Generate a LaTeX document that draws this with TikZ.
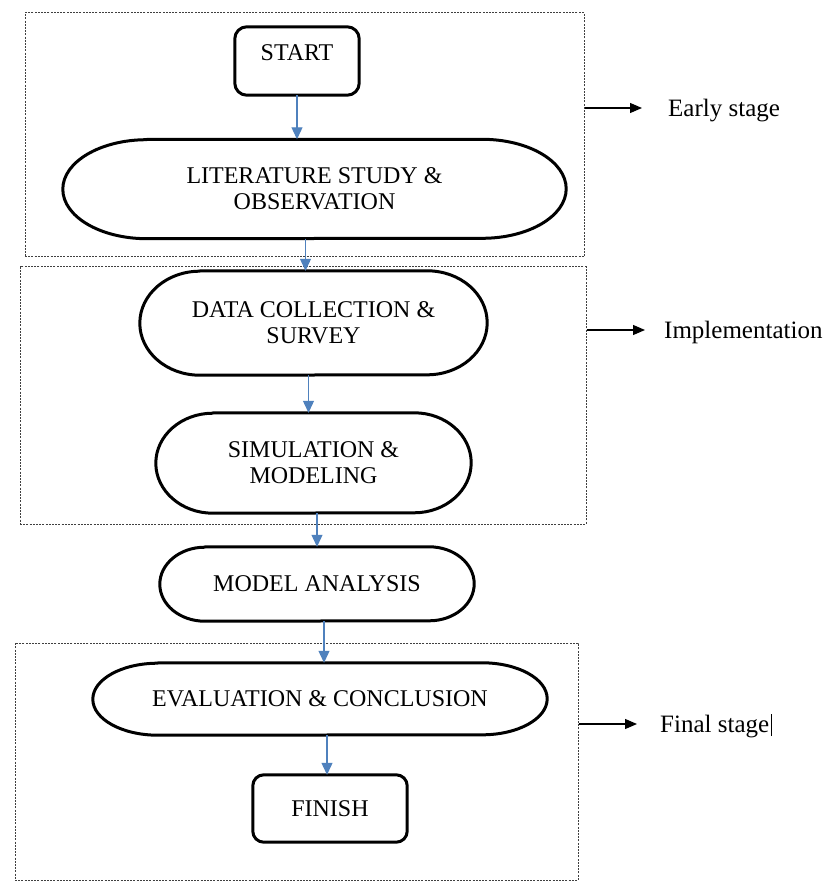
\documentclass[tikz,border=0pt]{standalone}
\usepackage{fontspec}
\setmainfont{Liberation Serif}
\usetikzlibrary{arrows.meta}
\definecolor{flowblue}{RGB}{79,129,189}
\tikzset{
  stagebox/.style={draw=black!75, line width=1pt, dash pattern=on 2pt off 1.2pt, inner sep=0pt},
  shapeline/.style={line width=3pt, line join=round},
  steptext/.style={font=\fontsize{24}{26}\selectfont, align=center, inner sep=0pt},
  flow/.style={draw=flowblue, line width=1.1pt, -{Triangle[length=12pt,width=11pt]}},
  side/.style={line width=1.2pt, -{Triangle[length=12pt,width=10pt]}},
  sidetext/.style={font=\fontsize{25}{28}\selectfont, anchor=base west, inner sep=0pt},
}
% outline of a capsule with elliptical ends: node name, end x radius, end y radius
\newcommand\capsuleframe[3]{%
  \draw[shapeline] ([xshift=#2]#1.north west) -- ([xshift=-#2]#1.north east)
    arc[start angle=90, end angle=-90, x radius=#2, y radius=#3]
    -- ([xshift=#2]#1.south west)
    arc[start angle=270, end angle=90, x radius=#2, y radius=#3] -- cycle;}
\begin{document}
\begin{tikzpicture}[x=1pt, y=-1pt]
  \fill[white] (0,0) rectangle (827,882);
  \useasboundingbox (0,0) rectangle (827,882);

  % stage frames
  \node[stagebox, minimum width=559pt, minimum height=244pt] (early) at (304.5,135) {};
  \node[stagebox, minimum width=566pt, minimum height=257pt] (impl) at (303,395.5) {};
  \node[stagebox, minimum width=563pt, minimum height=237pt] (final) at (296.5,761.5) {};

  % process steps
  \node[steptext, minimum width=124pt, minimum height=68pt, text height=16pt, text depth=17pt] (start) at (297,61) {START};
  \draw[shapeline, rounded corners=12pt] (start.north west) rectangle (start.south east);

  \node[steptext, minimum width=503pt, minimum height=99pt] (lit) at (314.5,189) {LITERATURE STUDY \&\\OBSERVATION};
  \capsuleframe{lit}{84pt}{49.5pt}

  \node[steptext, minimum width=347pt, minimum height=104pt] (data) at (313.5,323) {DATA COLLECTION \&\\SURVEY};
  \capsuleframe{data}{60pt}{52pt}

  \node[steptext, minimum width=315pt, minimum height=100pt] (sim) at (313.5,463) {SIMULATION \&\\MODELING};
  \capsuleframe{sim}{57pt}{50pt}

  \node[steptext, minimum width=314pt, minimum height=74pt] (model) at (317,584) {MODEL ANALYSIS};
  \capsuleframe{model}{45pt}{37pt}

  \node[steptext, minimum width=454pt, minimum height=72pt] (eval) at (320,699) {EVALUATION \& CONCLUSION};
  \capsuleframe{eval}{65pt}{36pt}

  \node[steptext, minimum width=154pt, minimum height=67pt] (finish) at (330,808.5) {FINISH};
  \draw[shapeline, rounded corners=11pt] (finish.north west) rectangle (finish.south east);

  % flow connectors
  \draw[flow] (start.south) -- (start.south |- lit.north);
  \draw[flow] ([xshift=-9pt]lit.south) -- ([xshift=-9pt]lit.south |- data.north);
  \draw[flow] ([xshift=-5pt]data.south) -- ([xshift=-5pt]data.south |- sim.north);
  \draw[flow] (sim.south -| model.north) -- (model.north);
  \draw[flow] ([xshift=7pt]model.south) -- ([xshift=7pt]model.south |- eval.north);
  \draw[flow] ([xshift=-3pt]finish.north |- eval.south) -- ([xshift=-3pt]finish.north);

  % stage labels
  \node[sidetext] (earlytxt) at (668,117) {Early stage};
  \coordinate (earlyend) at (642,108);
  \draw[side] (early.east |- earlyend) -- (earlyend);

  \node[sidetext] (impltxt) at (664,338) {Implementation};
  \coordinate (implend) at (645,330);
  \draw[side] (impl.east |- implend) -- (implend);

  \node[sidetext] (finaltxt) at (660,732) {Final stage};
  \coordinate (finalend) at (637,724);
  \draw[side] (final.east |- finalend) -- (finalend);
  \draw[line width=0.7pt] ([xshift=1.5pt,yshift=-4pt]finaltxt.base east) -- ++(0,-22);
\end{tikzpicture}
\end{document}
